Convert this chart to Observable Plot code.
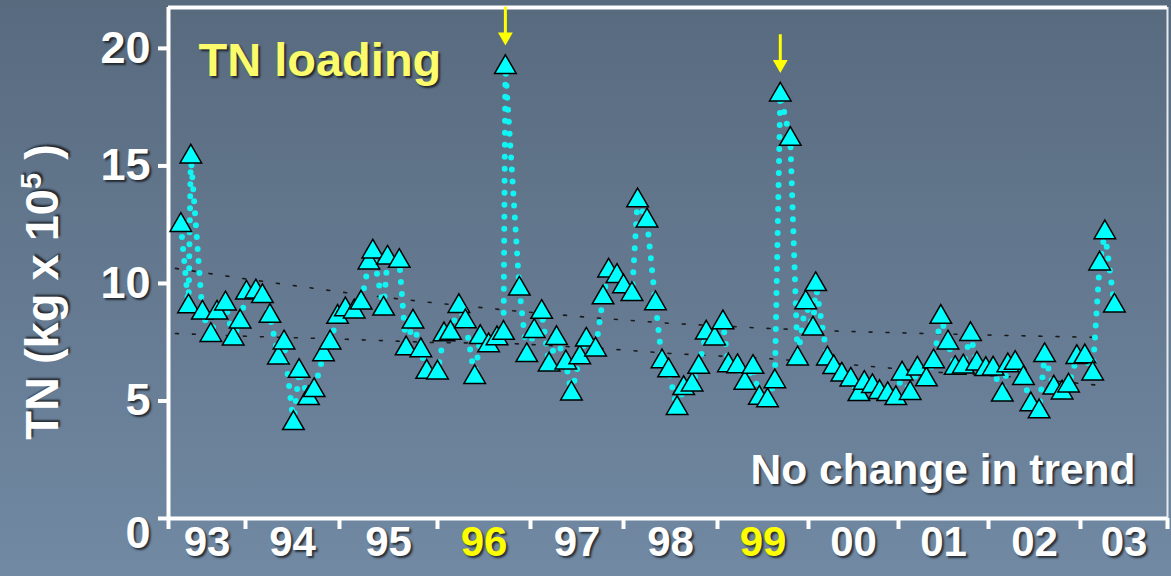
<!DOCTYPE html>
<html>
<head>
<meta charset="utf-8">
<script src="https://cdn.jsdelivr.net/npm/d3@7"></script>
<script src="https://cdn.jsdelivr.net/npm/@observablehq/plot@0.6"></script>
<style>
  html, body { margin: 0; padding: 0; }
  body {
    width: 1171px; height: 576px; overflow: hidden;
    background: linear-gradient(to bottom, #586a7e 0%, #7189a3 100%);
  }
  #chart svg { display: block; }
  #chart svg text {
    font-family: "Liberation Sans", Arial, sans-serif;
    font-weight: bold;
    text-shadow: 2px 2px 2px rgba(0, 0, 0, 0.65);
  }
  #chart g[aria-label="x-axis"] .tick line,
  #chart g[aria-label="y-axis"] .tick line,
  #chart g[aria-label="x-axis tick"] path,
  #chart g[aria-label="y-axis tick"] path { stroke-width: 4px; }
</style>
</head>
<body>
<div id="chart"></div>
<script>
// ---- data ----
const sampleYears = [
  1993.16, 1993.26, 1993.29, 1993.44, 1993.55, 1993.63, 1993.74, 1993.84, 1993.93,
  1994.01, 1994.11, 1994.18, 1994.26, 1994.35, 1994.41, 1994.51, 1994.57, 1994.67, 1994.73, 1994.83, 1994.90, 1994.98,
  1995.06, 1995.15, 1995.22, 1995.30, 1995.34, 1995.45, 1995.49, 1995.61, 1995.68, 1995.75, 1995.83, 1995.89,
  1996.00, 1996.07, 1996.14, 1996.23, 1996.30, 1996.40, 1996.46, 1996.55, 1996.64, 1996.71, 1996.73, 1996.88, 1996.96,
  1997.04, 1997.12, 1997.20, 1997.28, 1997.38, 1997.44, 1997.53, 1997.60, 1997.70, 1997.78, 1997.84, 1997.93,
  1998.00, 1998.09, 1998.15, 1998.25, 1998.34, 1998.41, 1998.48, 1998.57, 1998.64, 1998.73, 1998.80, 1998.88, 1998.97,
  1999.06, 1999.12, 1999.22, 1999.30, 1999.39, 1999.46, 1999.55, 1999.63, 1999.69, 1999.80, 1999.88, 1999.97,
  2000.05, 2000.08, 2000.21, 2000.28, 2000.37, 2000.47, 2000.56, 2000.62, 2000.71, 2000.79, 2000.88, 2000.97,
  2001.04, 2001.13, 2001.21, 2001.31, 2001.39, 2001.47, 2001.55, 2001.63, 2001.72, 2001.80, 2001.87, 2001.97,
  2002.05, 2002.15, 2002.21, 2002.29, 2002.38, 2002.46, 2002.55, 2002.61, 2002.71, 2002.80, 2002.87, 2002.96,
  2003.05, 2003.14, 2003.22, 2003.28, 2003.39
];
const tnValues = [
  12.48, 9.02, 15.39, 8.75, 7.80, 8.75, 9.14, 7.65, 8.37,
  9.60, 9.65, 9.45, 8.61, 6.84, 7.48, 4.05, 6.27, 5.11, 5.45, 6.98, 7.48, 8.57,
  8.89, 8.80, 9.18, 10.88, 11.35, 8.92, 11.09, 10.95, 7.23, 8.37, 7.15, 6.23,
  6.20, 7.83, 7.89, 9.03, 8.38, 6.01, 7.71, 7.36, 7.66, 7.89, 19.20, 9.77, 6.94,
  7.97, 8.78, 6.54, 7.67, 6.63, 5.31, 6.85, 7.60, 7.18, 9.40, 10.54, 10.31,
  9.87, 9.54, 13.53, 12.67, 9.15, 6.68, 6.29, 4.69, 5.54, 5.69, 6.44, 7.90, 7.65,
  8.34, 6.51, 6.47, 5.76, 6.44, 5.12, 5.02, 5.83, 18.03, 16.14, 6.80, 9.19,
  8.07, 9.96, 6.80, 6.43, 6.11, 5.90, 5.28, 5.76, 5.62, 5.37, 5.28, 5.11,
  6.16, 5.33, 6.37, 5.91, 6.68, 8.57, 7.48, 6.40, 6.46, 7.84, 6.58, 6.35,
  6.37, 5.26, 6.51, 6.61, 5.97, 4.85, 4.55, 6.94, 5.56, 5.35, 5.65, 6.86,
  6.89, 6.16, 10.84, 12.17, 9.05
];
const upperTrendYears = [1993.09, 1994.11, 1995.13, 1995.93, 1996.78, 1997.65, 1998.50, 1999.53, 2000.41, 2001.30, 2002.16, 2003.23];
const upperTrend      = [10.64, 10.13, 9.57, 9.19, 8.85, 8.55, 8.30, 8.09, 7.96, 7.87, 7.79, 7.70];
const lowerTrendYears = [1993.09, 1994.11, 1995.11, 1995.93, 1996.78, 1997.78, 1998.50, 1999.53, 2000.58, 2001.47, 2002.35, 2003.23];
const lowerTrend      = [7.87, 7.74, 7.62, 7.49, 7.45, 7.23, 7.02, 6.81, 6.51, 6.21, 6.00, 5.66];

const yearBoundaries = [1993, 1994, 1995, 1996, 1997, 1998, 1999, 2000, 2001, 2002, 2003, 2004];
const yearLabels = ["93", "94", "95", "96", "97", "98", "99", "00", "01", "02", "03"];
const highlightedLabels = ["96", "99"];
const yTickValues = [0, 5, 10, 15, 20];

const titleText = "TN loading";
const noteText = "No change in trend";
const yTitleText = "TN (kg x 10⁵ )";

// ---- build tables ----
const data = sampleYears.map((t, i) => ({t, tn: tnValues[i]}));
const upper = upperTrendYears.map((t, i) => ({t, v: upperTrend[i]}));
const lower = lowerTrendYears.map((t, i) => ({t, v: lowerTrend[i]}));
const peaks = data.filter(d => d.tn > 17);
const labelData = yearLabels.map((s, i) => ({s, x: (yearBoundaries[i] + yearBoundaries[i + 1]) / 2}));

const triangleDown = {
  draw(context, size) {
    const y = Math.sqrt(size / (3 * Math.sqrt(3)));
    context.moveTo(0, 2 * y);
    context.lineTo(-Math.sqrt(3) * y, -y);
    context.lineTo(Math.sqrt(3) * y, -y);
    context.closePath();
  }
};

const yMax = 21.74;
const white = "#ffffff";
const yellow = "#ffff00";

const plot = Plot.plot({
  width: 1171,
  height: 576,
  marginLeft: 168,
  marginRight: 4,
  marginTop: 7,
  marginBottom: 58,
  style: {background: "transparent", color: "white", fontFamily: "Liberation Sans, Arial, sans-serif", overflow: "visible"},
  x: {
    type: "linear",
    domain: yearBoundaries,
    range: [168, 245, 339, 437, 530, 623, 717, 808, 898, 988, 1080, 1167],
    ticks: yearBoundaries,
    tickSize: 11,
    tickFormat: () => "",
    label: null
  },
  y: {
    domain: [0, yMax],
    ticks: yTickValues,
    tickSize: 10,
    tickFormat: () => "",
    label: null
  },
  marks: [
    // frame
    Plot.ruleX([yearBoundaries[0]], {stroke: white, strokeWidth: 4}),
    Plot.ruleX([yearBoundaries[yearBoundaries.length - 1]], {stroke: "#e6eaee", strokeWidth: 2}),
    Plot.ruleY([yMax], {stroke: white, strokeWidth: 4}),
    // trend bands
    Plot.line(upper, {x: "t", y: "v", stroke: "#1a1a1a", strokeWidth: 1.6, strokeDasharray: "3 14"}),
    Plot.line(lower, {x: "t", y: "v", stroke: "#1a1a1a", strokeWidth: 1.6, strokeDasharray: "3 14"}),
    // series
    Plot.line(data, {x: "t", y: "tn", stroke: "#10f4f4", strokeWidth: 6, strokeDasharray: "0 12", strokeLinecap: "round"}),
    Plot.dot(data, {x: "t", y: "tn", symbol: "triangle", r: 8, fill: "#00ffff", stroke: "#000000", strokeWidth: 1.5}),
    // arrows over the two peaks
    Plot.ruleX(peaks, {x: "t", y1: d => d.tn + 1.4, y2: d => d.tn + 2.55, stroke: yellow, strokeWidth: 3}),
    Plot.dot(peaks, {x: "t", y: d => d.tn + 1.29, symbol: triangleDown, r: 5.5, fill: yellow, stroke: "none"}),
    // x axis line
    Plot.ruleY([0], {stroke: white, strokeWidth: 4}),
    // x labels
    Plot.text(labelData, {x: "x", text: "s", frameAnchor: "bottom", dy: 37, fontSize: 42,
      fill: d => highlightedLabels.includes(d.s) ? yellow : white}),
    // y labels
    Plot.text(yTickValues.filter(v => v > 0), {y: d => d, text: d => String(d), frameAnchor: "left", dx: -18,
      textAnchor: "end", fontSize: 45, fill: white}),
    Plot.text(yTickValues.filter(v => v === 0), {y: d => d, text: d => String(d), frameAnchor: "left", dx: -18, dy: 15,
      textAnchor: "end", fontSize: 45, fill: white}),
    // y title
    Plot.text([yTitleText], {text: d => d, frameAnchor: "left", dx: -126, dy: 29, rotate: -90,
      textAnchor: "middle", lineAnchor: "middle", fontSize: 47, fill: white}),
    // title
    Plot.text([titleText], {text: d => d, frameAnchor: "top-left", dx: 30, dy: 53, lineAnchor: "middle",
      textAnchor: "start", fontSize: 47, fill: "#fbfb6c"}),
    // note
    Plot.text([noteText], {text: d => d, frameAnchor: "bottom-right", dx: -32, dy: -48, lineAnchor: "middle",
      textAnchor: "end", fontSize: 42.5, fill: white})
  ]
});

document.getElementById("chart").appendChild(plot);

// superscript exponent in the y title
plot.querySelectorAll("text").forEach(t => {
  if (t.textContent === yTitleText) {
    const ns = "http://www.w3.org/2000/svg";
    while (t.firstChild) t.removeChild(t.firstChild);
    const a = document.createElementNS(ns, "tspan");
    a.textContent = "TN (kg x 10";
    const b = document.createElementNS(ns, "tspan");
    b.textContent = "5";
    b.setAttribute("font-size", "29");
    b.setAttribute("dy", "-17");
    const c = document.createElementNS(ns, "tspan");
    c.textContent = " )";
    c.setAttribute("dy", "17");
    t.appendChild(a); t.appendChild(b); t.appendChild(c);
  }
});
</script>
</body>
</html>
